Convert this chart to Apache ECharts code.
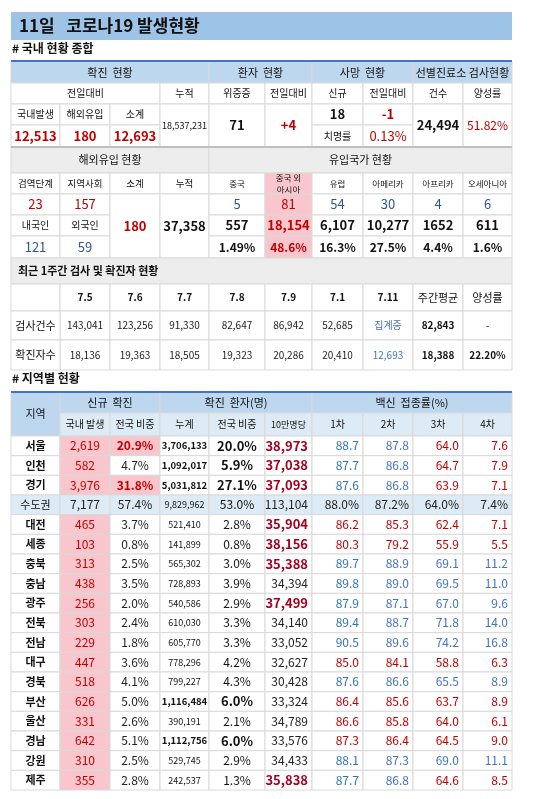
<!DOCTYPE html>
<html><head><meta charset="utf-8">
<script src="https://cdn.jsdelivr.net/npm/echarts@6/dist/echarts.min.js"></script>
<style>html,body{margin:0;background:#fff}#c{width:550px;height:799px}</style>
</head><body><div id="c"></div>
<script>
// 국내 현황
var domNew = [12513, 180, 12693]
var domCum = 18537231
var critical = 71, criticalDiff = '+4'
var deaths = 18, deathsDiff = '-1', fatality = '0.13%'
var screenTests = 24494, screenPos = '51.82%'
// 해외유입
var importStage = [23, 157], importNat = [121, 59], importSum = 180, importCum = 37358
var originNames = ['중국', '중국 외\n아시아', '유럽', '아메리카', '아프리카', '오세아니아']
var originNew = [5, 81, 54, 30, 4, 6]
var originCum = ['557', '18,154', '6,107', '10,277', '1652', '611']
var originPct = ['1.49%', '48.6%', '16.3%', '27.5%', '4.4%', '1.6%']
// 최근 1주간
var weekDates = ['7.5', '7.6', '7.7', '7.8', '7.9', '7.1', '7.11']
var weekTests = [143041, 123256, 91330, 82647, 86942, 52685, null]
var weekCases = [18136, 19363, 18505, 19323, 20286, 20410, 12693]
var weekAvg = [82843, 18388], weekRate = ['-', '22.20%']
// 지역별
var regions = ['서울','인천','경기','수도권','대전','세종','충북','충남','광주','전북','전남','대구','경북','부산','울산','경남','강원','제주']
var newCases = [2619,582,3976,7177,465,103,313,438,256,303,229,447,518,626,331,642,310,355]
var newShare = [20.9,4.7,31.8,57.4,3.7,0.8,2.5,3.5,2.0,2.4,1.8,3.6,4.1,5.0,2.6,5.1,2.5,2.8]
var cumCases = [3706133,1092017,5031812,9829962,521410,141899,565302,728893,540586,610030,605770,778296,799227,1116484,390191,1112756,529745,242537]
var cumShare = [20.0,5.9,27.1,53.0,2.8,0.8,3.0,3.9,2.9,3.3,3.3,4.2,4.3,6.0,2.1,6.0,2.9,1.3]
var per100k = [38973,37038,37093,113104,35904,38156,35388,34394,37499,34140,33052,32627,30428,33324,34789,33576,34433,35838]
var dose1 = [88.7,87.7,87.6,88.0,86.2,80.3,89.7,89.8,87.9,89.4,90.5,85.0,87.6,86.4,86.6,87.3,88.1,87.7]
var dose2 = [87.8,86.8,86.8,87.2,85.3,79.2,88.9,89.0,87.1,88.7,89.6,84.1,86.6,85.6,85.8,86.4,87.3,86.8]
var dose3 = [64.0,64.7,63.9,64.0,62.4,55.9,69.1,69.5,67.0,71.8,74.2,58.8,65.5,63.7,64.0,64.5,69.0,64.6]
var dose4 = [7.6,7.9,7.1,7.4,7.1,5.5,11.2,11.0,9.6,14.0,16.8,6.3,8.9,8.9,6.1,9.0,11.1,8.5]

var COLX = [11,60,110,160,209,265,312,363,413,463,512]
var RED = '#c00000', DRED = '#a50021', PINK = '#f8c6cc', B1 = '#2e75b6', B2 = '#4472c4'
var HEAD = '#bdd7ee', GRAY = '#ededed', LINE = '#d9d9d9'
var fmt = function (v) { return v.toLocaleString('en-US') }

var cells = []
function add(c0, c1, y0, y1, text, o) {
  cells.push(Object.assign({ x0: COLX[c0], x1: COLX[c1], y0: y0, y1: y1, text: String(text) }, o || {}))
}
var big = { size: 13, bold: true }

// section 1
add(0,10,12,40,'11일   코로나19 발생현황',{bg:'#9dc3e6',line:'none',size:17,bold:true,align:'left',pad:8})
add(0,4,62,83,'확진  현황',{bg:HEAD,size:11})
add(4,6,62,83,'환자  현황',{bg:HEAD,size:11})
add(6,8,62,83,'사망  현황',{bg:HEAD,size:11})
add(8,10,62,83,'선별진료소 검사현황',{bg:HEAD,size:11})
add(0,3,83,104,'전일대비',{size:10}); add(3,4,83,104,'누적',{size:10})
;['위중증','전일대비','신규','전일대비','건수','양성률'].forEach(function (t, i) { add(4+i,5+i,83,104,t,{size:10}) })
;['국내발생','해외유입','소계'].forEach(function (t, i) {
  add(i,i+1,104,125,t,{size:10})
  add(i,i+1,125,147,fmt(domNew[i]),{size:13,bold:true,color:RED})
})
add(3,4,104,147,fmt(domCum),{size:9})
add(4,5,104,147,critical,big)
add(5,6,104,147,criticalDiff,{size:13,bold:true,color:RED})
add(6,7,104,125,deaths,big); add(7,8,104,125,deathsDiff,{size:13,bold:true,color:RED})
add(6,7,125,147,'치명률',{size:10}); add(7,8,125,147,fatality,{size:13,color:RED})
add(8,9,104,147,fmt(screenTests),big); add(9,10,104,147,screenPos,{size:12,color:RED})
// section 2
add(0,4,147,173,'해외유입 현황',{bg:GRAY,size:11}); add(4,10,147,173,'유입국가 현황',{bg:GRAY,size:11})
;['검역단계','지역사회','소계','누적'].forEach(function (t, i) { add(i,i+1,173,194,t,{size:9.5}) })
originNames.forEach(function (t, i) { add(4+i,5+i,173,194,t,{size:8.5,bg:i==1?PINK:null}) })
add(0,1,194,215,importStage[0],{size:13,color:RED}); add(1,2,194,215,importStage[1],{size:13,color:RED})
add(0,1,215,236,'내국인',{size:10}); add(1,2,215,236,'외국인',{size:10})
add(0,1,236,258,importNat[0],{size:13,color:'#2f5597'}); add(1,2,236,258,importNat[1],{size:13,color:'#2f5597'})
add(2,3,194,258,importSum,{size:13,bold:true,color:RED}); add(3,4,194,258,fmt(importCum),big)
originNew.forEach(function (v, i) {
  var p = i == 1
  add(4+i,5+i,194,215,v,{size:13,color:p?RED:'#2f5597',bg:p?PINK:null})
  add(4+i,5+i,215,236,originCum[i],{size:13,bold:true,color:p?RED:'#111',bg:p?PINK:null})
  add(4+i,5+i,236,258,originPct[i],{size:12,bold:true,color:p?RED:'#111',bg:p?PINK:null})
})
// section 3
add(0,10,258,284,'  최근 1주간 검사 및 확진자 현황',{bg:GRAY,size:11,bold:true,align:'left'})
add(0,1,284,311,'')
weekDates.forEach(function (d, i) {
  add(1+i,2+i,284,311,d,{size:10,bold:true})
  add(1+i,2+i,311,340,weekTests[i]==null?'집계중':fmt(weekTests[i]),{size:10,color:i==6?B2:'#222'})
  add(1+i,2+i,340,370,fmt(weekCases[i]),{size:10,color:i==6?B2:'#222'})
})
add(8,9,284,311,'주간평균',{size:11}); add(9,10,284,311,'양성률',{size:11})
add(0,1,311,340,'검사건수',{size:11}); add(0,1,340,370,'확진자수',{size:11})
add(8,9,311,340,fmt(weekAvg[0]),{size:10,bold:true}); add(9,10,311,340,weekRate[0],{size:10})
add(8,9,340,370,fmt(weekAvg[1]),{size:10,bold:true}); add(9,10,340,370,weekRate[1],{size:10,bold:true})
// section 4
add(0,1,392,436,'지역',{bg:HEAD,size:11})
add(1,3,392,413,'신규  확진',{bg:HEAD,size:11}); add(3,6,392,413,'확진  환자(명)',{bg:HEAD,size:11})
add(6,10,392,413,'백신  접종률(%)',{bg:HEAD,size:11})
;['국내 발생','전국 비중','누계','전국 비중','10만명당','1차','2차','3차','4차'].forEach(function (t, i) {
  add(1+i,2+i,413,436,t,{bg:'#ddebf7',size:t=='10만명당'?9:10})
})
var RH = (790 - 436) / regions.length
regions.forEach(function (r, i) {
  var y0 = 436 + i * RH, y1 = y0 + RH, cap = r == '수도권'
  var rowBg = cap ? '#ddebf7' : null
  var lowAll = dose1[i] < 87.5, low34 = lowAll || dose3[i] < 65
  add(0,1,y0,y1,r,{size:11,bold:!cap,bg:rowBg})
  add(1,2,y0,y1,fmt(newCases[i]),{size:12,color:cap?'#222':'#c00000',bg:cap?rowBg:PINK})
  var top = newShare[i] > 20 && !cap
  add(2,3,y0,y1,newShare[i].toFixed(1)+'%',{size:12,color:top?RED:'#222',bold:top,bg:top?PINK:rowBg})
  var heavy = cumShare[i] >= 5 && !cap
  add(3,4,y0,y1,fmt(cumCases[i]),{size:heavy?9.5:9,bold:heavy,bg:rowBg})
  add(4,5,y0,y1,cumShare[i].toFixed(1)+'%',{size:heavy?13:12,bold:heavy,bg:rowBg})
  var hot = per100k[i] > 35000 && !cap
  add(5,6,y0,y1,fmt(per100k[i]),{size:hot?13:12,bold:hot,color:hot?DRED:'#222',align:'right',bg:rowBg})
  var pct = cap ? '%' : ''
  add(6,7,y0,y1,dose1[i].toFixed(1)+pct,{size:12,color:cap?'#222':lowAll?RED:B1,align:'right',bg:rowBg})
  add(7,8,y0,y1,dose2[i].toFixed(1)+pct,{size:12,color:cap?'#222':lowAll?RED:B2,align:'right',bg:rowBg})
  add(8,9,y0,y1,dose3[i].toFixed(1)+pct,{size:12,color:cap?'#222':low34?RED:B2,align:'right',bg:rowBg})
  add(9,10,y0,y1,dose4[i].toFixed(1)+pct,{size:12,color:cap?'#222':low34?RED:B2,align:'right',bg:rowBg})
})

var chart = echarts.init(document.getElementById('c'))
chart.setOption({
  animation: false,
  textStyle: { fontFamily: 'Noto Sans CJK KR' },
  grid: { left: 0, right: 0, top: 0, bottom: 0 },
  xAxis: { type: 'value', min: 0, max: 550, show: false },
  yAxis: { type: 'value', min: 0, max: 799, inverse: true, show: false },
  graphic: [
    { type: 'text', left: 12, top: 42, z: 100, style: { text: '# 국내 현황 종합', font: 'bold 12px "Noto Sans CJK KR"', fill: '#111' } },
    { type: 'text', left: 12, top: 372, z: 100, style: { text: '# 지역별 현황', font: 'bold 12px "Noto Sans CJK KR"', fill: '#111' } }
  ],
  series: [{
    type: 'custom',
    coordinateSystem: 'cartesian2d',
    data: cells.map(function (c, i) { return [c.x0, c.y0, c.x1, c.y1, i] }),
    renderItem: function (params, api) {
      var c = cells[api.value(4)]
      var p0 = api.coord([api.value(0), api.value(1)]), p1 = api.coord([api.value(2), api.value(3)])
      var w = p1[0] - p0[0], h = p1[1] - p0[1]
      var al = c.align || 'center'
      var tx = al == 'center' ? p0[0] + w / 2 : al == 'right' ? p1[0] - 4 : p0[0] + (c.pad || 2)
      return { type: 'group', children: [
        { type: 'rect', shape: { x: p0[0], y: p0[1], width: w, height: h },
          style: { fill: c.bg || '#fff', stroke: c.line == 'none' ? null : LINE, lineWidth: 1 } },
        { type: 'text', style: { text: c.text, x: tx, y: p0[1] + h / 2, align: al, verticalAlign: 'middle',
          fill: c.color || '#111', lineHeight: 12,
          font: (c.bold ? 'bold ' : '') + (c.size || 11) + 'px "Noto Sans CJK KR"' } }
      ] }
    }
  }, {
    type: 'custom', coordinateSystem: 'cartesian2d', silent: true,
    data: [[61], [147], [392]],
    renderItem: function (params, api) {
      var a = api.coord([COLX[0], api.value(0)]), b = api.coord([COLX[10], api.value(0)])
      return { type: 'line', shape: { x1: a[0], y1: a[1], x2: b[0], y2: b[1] },
        style: { stroke: ['#4472c4', '#bfbfbf', '#4472c4'][params.dataIndex], lineWidth: 2 } }
    }
  }]
})
</script></body></html>
